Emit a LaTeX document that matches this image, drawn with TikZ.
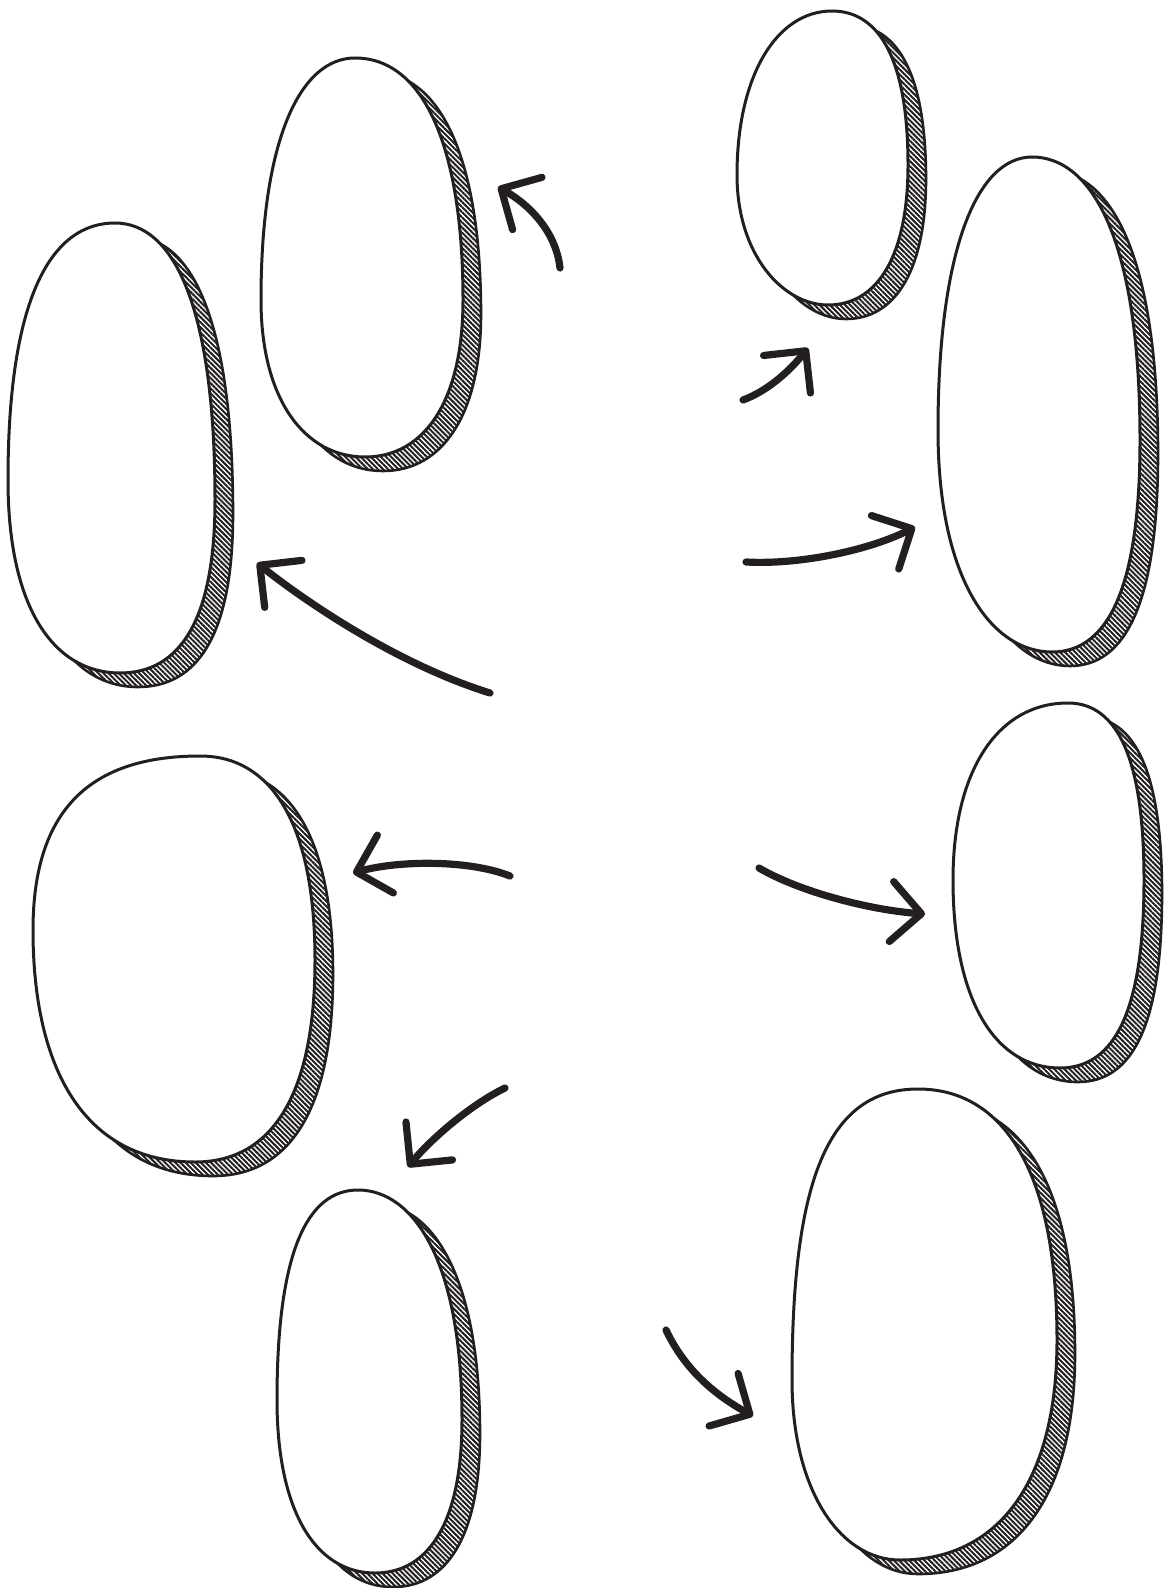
\documentclass[tikz,border=0pt]{standalone}
\usepackage{tikz}
\usetikzlibrary{arrows.meta, patterns.meta}

\definecolor{ink}{HTML}{231F20}

\begin{document}
\begin{tikzpicture}[
x=0.5pt, y=-0.5pt,
blob/.style={draw=ink, line width=1.5pt, fill=white, line join=round,
  preaction={draw=ink, line width=1.3pt,
    pattern={Lines[angle=-45, distance=1.8pt, line width=1pt]}, pattern color=ink,
    transform canvas={shift={(9pt,-7pt)}}}},
arrow/.style={draw=ink, line width=3.6pt, line cap=round,
  -{Straight Barb[length=15pt, width=30pt, round]}}
]
\useasboundingbox (0,0) rectangle (1163,1588);

% ---------- LEFT SIDE ----------

\draw[blob] (355,58) .. controls +(70,0) and +(0,-150) .. (463,300)
  .. controls +(0,100) and +(60,0) .. (365,457)
  .. controls +(-60,0) and +(0,100) .. (261,300)
  .. controls +(0,-160) and +(-55,0) .. (355,58) -- cycle;

\draw[blob] (115,223) .. controls +(60,0) and +(0,-190) .. (215,500)
  .. controls +(0,120) and +(60,0) .. (120,673)
  .. controls +(-65,0) and +(0,130) .. (8,480)
  .. controls +(0,-180) and +(-65,0) .. (115,223) -- cycle;

\draw[blob] (200,756) .. controls +(75,0) and +(0,-130) .. (315,960)
  .. controls +(0,130) and +(80,0) .. (195,1162)
  .. controls +(-110,0) and +(0,140) .. (33,930)
  .. controls +(0,-120) and +(-110,0) .. (200,756) -- cycle;

\draw[blob] (358,1190) .. controls +(55,0) and +(0,-160) .. (462,1420)
  .. controls +(0,100) and +(55,0) .. (375,1573)
  .. controls +(-60,0) and +(0,110) .. (277,1400)
  .. controls +(0,-150) and +(-50,0) .. (358,1190) -- cycle;

% ---------- RIGHT SIDE ----------

\draw[blob] (832,11) .. controls +(50,0) and +(0,-100) .. (908,165)
  .. controls +(0,90) and +(50,0) .. (828,305)
  .. controls +(-45,0) and +(0,80) .. (737,175)
  .. controls +(0,-100) and +(-55,0) .. (832,11) -- cycle;

\draw[blob] (1032,157) .. controls +(60,0) and +(0,-200) .. (1140,440)
  .. controls +(0,150) and +(55,0) .. (1052,652)
  .. controls +(-60,0) and +(0,150) .. (938,430)
  .. controls +(0,-180) and +(-55,0) .. (1032,157) -- cycle;

\draw[blob] (1068,703) .. controls +(50,0) and +(0,-120) .. (1144,880)
  .. controls +(0,130) and +(55,0) .. (1060,1068)
  .. controls +(-65,0) and +(0,120) .. (953,880)
  .. controls +(0,-110) and +(-70,0) .. (1068,703) -- cycle;

\draw[blob] (918,1089) .. controls +(85,0) and +(0,-170) .. (1057,1340)
  .. controls +(0,140) and +(100,0) .. (900,1560)
  .. controls +(-60,0) and +(0,110) .. (792,1380)
  .. controls +(0,-200) and +(-90,0) .. (918,1089) -- cycle;

% ---------- ARROWS ----------

\coordinate (upS) at (560,268);    \coordinate (upE) at (498,187);
\coordinate (leftS) at (490,693);  \coordinate (leftE) at (257,563);
\coordinate (midS) at (510,876);   \coordinate (midE) at (353,873);
\coordinate (downS) at (505,1088); \coordinate (downE) at (408,1167);
\coordinate (smallS) at (743,400); \coordinate (smallE) at (808,348);
\coordinate (tallS) at (746,562);  \coordinate (tallE) at (915,527);
\coordinate (sideS) at (759,868);  \coordinate (sideE) at (925,914);
\coordinate (lowS) at (666,1330);  \coordinate (lowE) at (753,1416);

\draw[arrow] (upS) .. controls (556,232) and (530,205) .. (upE);
\draw[arrow] (leftS) .. controls (400,665) and (310,605) .. (leftE);
\draw[arrow] (midS) .. controls (470,860) and (400,860) .. (midE);
\draw[arrow] (downS) .. controls (470,1105) and (430,1140) .. (downE);

\draw[arrow] (smallS) .. controls (770,390) and (792,368) .. (smallE);
\draw[arrow] (tallS) .. controls (800,565) and (870,550) .. (tallE);
\draw[arrow] (sideS) .. controls (800,892) and (870,910) .. (sideE);
\draw[arrow] (lowS) .. controls (685,1370) and (715,1395) .. (lowE);

\end{tikzpicture}
\end{document}
